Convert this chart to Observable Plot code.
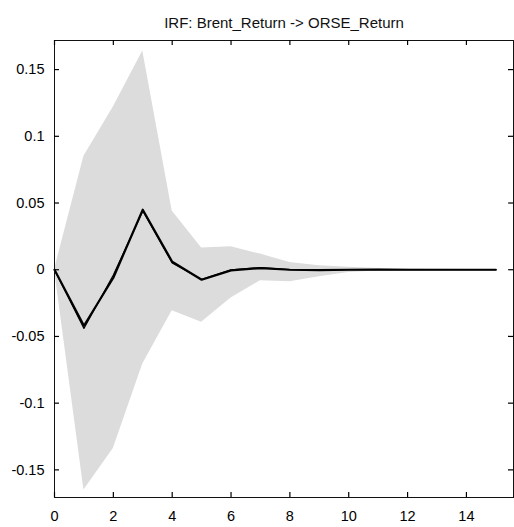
<!DOCTYPE html>
<html>
<head>
<meta charset="utf-8">
<script src="https://cdn.jsdelivr.net/npm/d3@7"></script>
<script src="https://cdn.jsdelivr.net/npm/@observablehq/plot@0.6"></script>
<style>
  html, body { margin: 0; padding: 0; background: #fff; }
  #chart svg { display: block; }
</style>
</head>
<body>
<div id="chart"></div>
<script>
const title = "IRF: Brent_Return -> ORSE_Return";
const horizon = [0, 1, 2, 3, 4, 5, 6, 7, 8, 9, 10, 11, 12, 13, 14, 15];
const irf = [0, -0.042, -0.006, 0.045, 0.006, -0.0075, -0.0005, 0.0012, 0, -0.0003, 0, 0.0001, 0, 0, 0, 0];
const irfMedian = [0, -0.044, -0.004, 0.044, 0.005, -0.0072, 0, 0.0016, 0.0001, -0.0002, 0, 0, 0, 0, 0, 0];
const upper = [0, 0.085, 0.122, 0.164, 0.044, 0.0162, 0.0172, 0.0117, 0.0055, 0.003, 0.0018, 0.001, 0.0005, 0.0003, 0.0002, 0.0001];
const lower = [0, -0.165, -0.134, -0.0706, -0.0307, -0.0394, -0.0212, -0.0082, -0.009, -0.0052, -0.002, -0.001, -0.0005, -0.0003, -0.0002, -0.0001];
const xTicks = [0, 2, 4, 6, 8, 10, 12, 14];
const yTicks = [-0.15, -0.1, -0.05, 0, 0.05, 0.1, 0.15];

const rows = horizon.map((h, i) => ({h, irf: irf[i], med: irfMedian[i], lo: lower[i], hi: upper[i]}));
const fmt = d => String(Math.round(d * 100) / 100);

const W = 514, H = 527, mT = 40, mB = 30, mL = 54, mR = 1, tick = 5;
const frameH = H - mT - mB, frameW = W - mL - mR;

const chart = Plot.plot({
  width: W,
  height: H,
  marginTop: mT,
  marginBottom: mB,
  marginLeft: mL,
  marginRight: mR,
  style: {fontFamily: "'Liberation Sans', Arial, Helvetica, sans-serif", fontSize: "14.5px", color: "#000"},
  x: {domain: [0, 15.6]},
  y: {domain: [-0.1707, 0.1718]},
  marks: [
    Plot.areaY(rows, {x: "h", y1: "lo", y2: "hi", fill: "#dcdcdc"}),
    Plot.lineY(rows, {x: "h", y: "med", stroke: "#000", strokeWidth: 1.2}),
    Plot.lineY(rows, {x: "h", y: "irf", stroke: "#000", strokeWidth: 2.2}),
    Plot.frame({stroke: "#111", strokeWidth: 1}),
    // inward tick marks (bottom, top, left, right)
    Plot.ruleX(xTicks, {x: d => d, insetTop: frameH - tick, stroke: "#000", strokeWidth: 1.2}),
    Plot.ruleX(xTicks, {x: d => d, insetBottom: frameH - tick, stroke: "#000", strokeWidth: 1.2}),
    Plot.ruleY(yTicks, {y: d => d, insetRight: frameW - tick, stroke: "#000", strokeWidth: 1.2}),
    Plot.ruleY(yTicks, {y: d => d, insetLeft: frameW - tick, stroke: "#000", strokeWidth: 1.2}),
    // tick labels
    Plot.axisX(xTicks, {anchor: "bottom", tickSize: 0, tickPadding: 13, tickFormat: fmt, label: null, fontSize: 14.5}),
    Plot.axisY(yTicks, {anchor: "left", tickSize: 0, tickPadding: 10, tickFormat: fmt, label: null, fontSize: 14.5}),
    Plot.text([title], {frameAnchor: "top", dy: -23, text: d => d, fontSize: 15, fill: "#111"})
  ]
});
document.getElementById("chart").appendChild(chart);
</script>
</body>
</html>
